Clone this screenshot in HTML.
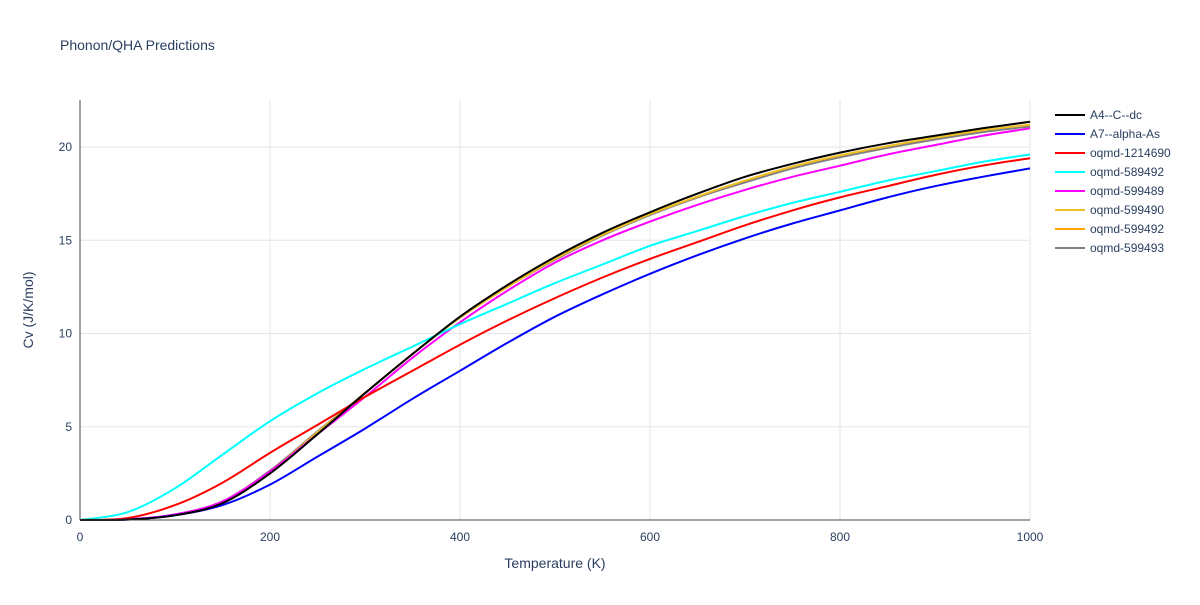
<!DOCTYPE html>
<html><head><meta charset="utf-8"><style>
body{margin:0;background:#fff;font-family:"Liberation Sans",sans-serif;}
svg text{font-family:"Liberation Sans",sans-serif;fill:#2a3f5f;}
</style></head><body>
<svg id="chart" width="1200" height="600" xmlns="http://www.w3.org/2000/svg">
<rect width="1200" height="600" fill="#fff"/>
<text x="60" y="50" font-size="14">Phonon/QHA Predictions</text>
<g id="grid"></g><g id="series"></g><g id="axes"></g><g id="legend"></g>
<text x="555" y="568" font-size="14" text-anchor="middle">Temperature (K)</text>
<text transform="translate(33,310) rotate(-90)" font-size="14" text-anchor="middle">Cv (J/K/mol)</text>
</svg>
<script>
const temps=[0,50,100,150,200,250,300,350,400,450,500,550,600,650,700,750,800,850,900,950,1000];
const seriesNames=["A4--C--dc","A7--alpha-As","oqmd-1214690","oqmd-589492","oqmd-599489","oqmd-599490","oqmd-599492","oqmd-599493"];
const seriesColors=["#000000","#0000ff","#ff0000","#00ffff","#ff00ff","#f0c020","#ffa500","#808080"];
const sBlack=[0,0.02,0.25,0.9,2.5,4.6,6.8,8.9,10.9,12.6,14.1,15.4,16.5,17.5,18.4,19.1,19.7,20.2,20.6,21.0,21.35];
const sBlue=[0,0.02,0.25,0.8,1.9,3.4,4.9,6.5,8.0,9.5,10.9,12.1,13.2,14.2,15.1,15.9,16.6,17.3,17.9,18.4,18.85];
const sRed=[0,0.1,0.8,2.0,3.6,5.1,6.6,8.0,9.4,10.7,11.9,13.0,14.0,14.9,15.8,16.6,17.3,17.9,18.5,19.0,19.4];
const sCyan=[0,0.42,1.7,3.5,5.3,6.8,8.1,9.3,10.5,11.6,12.7,13.7,14.7,15.5,16.3,17.0,17.6,18.2,18.7,19.2,19.6];
const sMagenta=[0,0.03,0.3,1.0,2.6,4.6,6.6,8.7,10.6,12.3,13.8,15.0,16.0,16.9,17.7,18.4,19.0,19.6,20.1,20.6,21.0];
const sGold=[0,0.03,0.28,1.0,2.6,4.7,6.8,8.9,10.85,12.5,14.0,15.3,16.4,17.35,18.2,18.95,19.55,20.05,20.5,20.9,21.2];
const sOrange=[0,0.03,0.28,1.0,2.6,4.7,6.8,8.9,10.85,12.5,14.0,15.3,16.4,17.3,18.15,18.9,19.5,20.0,20.45,20.85,21.15];
const sGray=[0,0.03,0.28,1.0,2.65,4.75,6.8,8.9,10.85,12.5,13.95,15.25,16.35,17.3,18.1,18.85,19.45,19.95,20.4,20.8,21.1];
const allSeries=[sBlack,sBlue,sRed,sCyan,sMagenta,sGold,sOrange,sGray];
const xTicks=[0,200,400,600,800,1000];
const yTicks=[0,5,10,15,20];
const NS="http://www.w3.org/2000/svg";
const X0=80,X1=1030,Y0=520,Y20=147;
const xs=v=>X0+(v/1000)*(X1-X0);
const ys=v=>Y0-(v/20)*(Y0-Y20);
function mk(t,a,p){const e=document.createElementNS(NS,t);for(const k in a)e.setAttribute(k,a[k]);p.appendChild(e);return e;}
function smooth(pts){
 let d='M'+pts[0][0].toFixed(1)+','+pts[0][1].toFixed(1);
 for(let i=0;i<pts.length-1;i++){
  const p0=pts[Math.max(i-1,0)],p1=pts[i],p2=pts[i+1],p3=pts[Math.min(i+2,pts.length-1)];
  const c1=[p1[0]+(p2[0]-p0[0])/6,p1[1]+(p2[1]-p0[1])/6];
  const c2=[p2[0]-(p3[0]-p1[0])/6,p2[1]-(p3[1]-p1[1])/6];
  d+='C'+c1[0].toFixed(1)+','+c1[1].toFixed(1)+' '+c2[0].toFixed(1)+','+c2[1].toFixed(1)+' '+p2[0].toFixed(1)+','+p2[1].toFixed(1);
 }
 return d;
}
const grid=document.getElementById('grid'),axes=document.getElementById('axes'),ser=document.getElementById('series'),leg=document.getElementById('legend');
xTicks.forEach(t=>{
 if(t>0){const g=mk('line',{x1:xs(t),x2:xs(t),y1:100,y2:Y0,stroke:'#e5e5e5'},grid);
 
 }
 const l=mk('text',{x:xs(t),y:Y0+21,'font-size':12,'text-anchor':'middle'},axes);l.textContent=t;
 
 
});
yTicks.forEach(t=>{
 if(t>0){const g=mk('line',{x1:X0,x2:X1,y1:ys(t),y2:ys(t),stroke:'#e5e5e5'},grid);
 
 }
 const l=mk('text',{x:X0-8,y:ys(t)+4,'font-size':12,'text-anchor':'end'},axes);l.textContent=t;
 
 
});
const ax=mk('line',{x1:X0,x2:X0,y1:100,y2:Y0,stroke:'#444'},axes);


const bx=mk('line',{x1:X0,x2:X1,y1:Y0,y2:Y0,stroke:'#444'},axes);


[6,7,5,4,3,2,1,0].forEach(i=>{
 const pts=allSeries[i].map((v,j)=>[xs(temps[j]),ys(v)]);
 const p=mk('path',{d:smooth(pts),fill:'none',stroke:seriesColors[i],'stroke-width':2},ser);
 
 
});
seriesNames.forEach((n,i)=>{
 const y=115+i*19;
 const g=mk('g',{},leg);
 
 
 mk('line',{x1:1055,x2:1085,y1:y,y2:y,stroke:seriesColors[i],'stroke-width':2},g);
 const t=mk('text',{x:1090,y:y+4,'font-size':12},g);t.textContent=n;
});
</script>
</body></html>
